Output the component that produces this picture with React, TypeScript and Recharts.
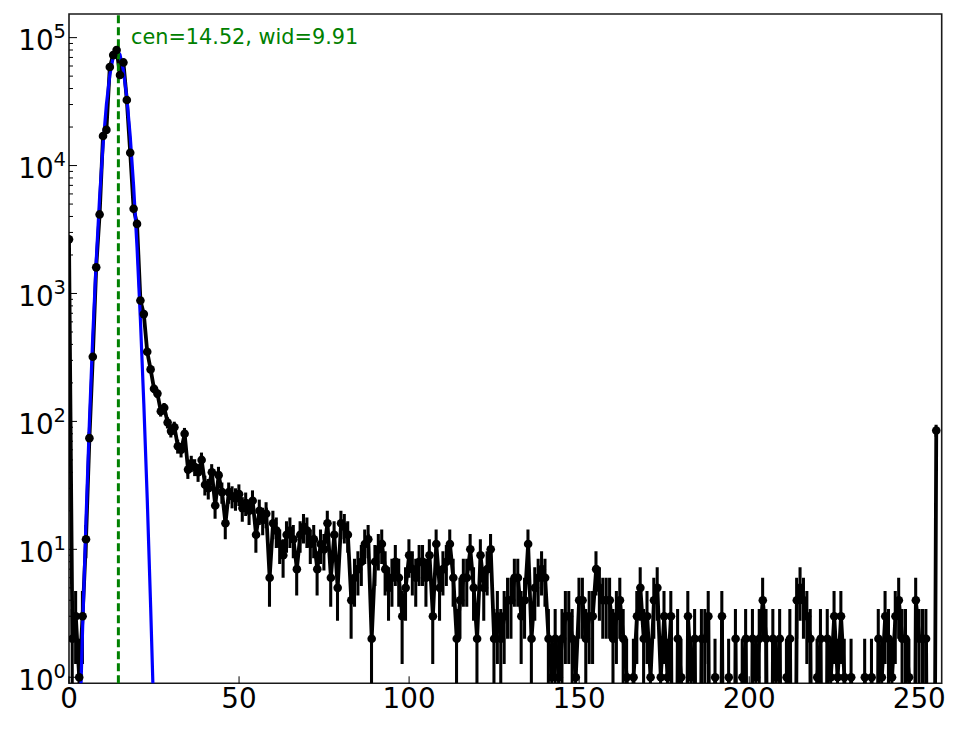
import { ComposedChart, Line, Bar, XAxis, YAxis, ReferenceLine, ReferenceArea } from 'recharts';

// counts per bin, bin index = x position
const counts = [
  2650, 2, 3, 1, 3, 12, 74, 320, 1600, 4150,
  17000, 19000, 59000, 73000, 80000, 51000, 64000, 32500, 12600, 4600,
  3500, 880, 690, 350, 255, 180, 165, 120, 128, 98,
  84, 90, 64, 60, 80, 42, 47, 44, 40, 50,
  32, 30, 40, 22, 38, 28, 16, 28, 26, 25,
  27, 21, 23, 20, 24, 13, 20, 17, 19, 6,
  16, 14, 11, 9, 13, 14, 12, 7, 13, 15,
  14, 11, 12, 7, 11, 10, 16, 6, 13, 5,
  16, 15, 13, 4, 6, 7, 8, 11, 12, 2,
  8, 10, 11, 7, 5, 6, 8, 6, 3, 5,
  9, 7, 6, 8, 8, 6, 9, 3, 11, 5,
  7, 8, 11, 6, 2, 4, 6, 6, 10, 5,
  2, 9, 5, 7, 10, 2, 3, 2, 3, 4,
  4, 6, 6, 3, 4, 11, 2, 5, 6, 7,
  6, 2, 1, 2, 1, 2, 3, 3, 2, 1,
  4, 4, 2, 3, 3, 7, 5, 4, 4, 4,
  2, 3, 4, 2, 1, 0, 1, 3, 5, 2,
  3, 1, 4, 5, 1, 3, 1, 3, 0, 2,
  1, 0, 3, 1, 2, 0, 2, 2, 3, 0,
  1, 0, 3, 0, 1, 0, 2, 0, 1, 2,
  0, 2, 1, 2, 4, 2, 0, 2, 1, 2,
  0, 1, 2, 0, 4, 5, 4, 3, 2, 0,
  1, 2, 0, 2, 1, 3, 1, 3, 1, 0,
  1, 0, 0, 0, 1, 0, 1, 0, 2, 1,
  3, 2, 1, 3, 4, 2, 2, 1, 0, 4,
  2, 2, 2, 0, 0, 85,
];

// gaussian fit curve
const fitX = [3, 4, 5, 6, 7, 8, 9, 10, 11, 12, 13, 14, 15, 16, 17, 18, 19, 20, 21, 22, 23, 24, 25];
const fitY = [0.28, 2.4, 17, 99, 468, 1790, 5640, 14400, 30000, 51000, 70700, 79900, 73600, 55400, 33900, 17000, 6900, 2300, 620, 137, 25, 3.6, 0.44];

const cen = 14.52;
const wid = 9.91;
const xTicks = [0, 50, 100, 150, 200, 250];
const yDecades = [1, 10, 100, 1000, 10000, 100000];

const X_MAX = 256.6;
const Y_MIN = 0.897;
const Y_MAX = 153000;
const FLOOR = 1e-4; // empty bins drop off the bottom like matplotlib's clip

const font = 'DejaVu Sans, sans-serif';

// sqrt(N) error bars as floating bars; lower ends stop at the bottom of the axes
const rows = counts.map((n, i) => ({
  x: i,
  y: n > 0 ? n : FLOOR,
  band: n > 0 ? [Math.max(n - Math.sqrt(n), Y_MIN), n + Math.sqrt(n)] : null,
}));
const fitRows = fitX.map((x, i) => ({ x, fit: fitY[i] }));
const yTicks = yDecades.flatMap((d) => (d === 100000 ? [d] : [1, 2, 3, 4, 5, 6, 7, 8, 9].map((m) => m * d)));

const XTick = (props: any) => {
  const { x, y, payload } = props;
  return (
    <g>
      <line x1={x} x2={x} y1={y} y2={y - 7} stroke="#000" strokeWidth={1} />
      <text x={x} y={y + 24.5} textAnchor="middle" fontSize={27.8} fontFamily={font} fill="#000">
        {payload.value}
      </text>
    </g>
  );
};

const YTick = (props: any) => {
  const { x, y, payload } = props;
  const v = payload.value;
  const major = yDecades.includes(v);
  return (
    <g>
      <line x1={x} x2={x + (major ? 8 : 4)} y1={y} y2={y} stroke="#000" strokeWidth={1} />
      {major && (
        <text x={x - 3} y={y + 12.3} textAnchor="end" fontSize={27.8} fontFamily={font} fill="#000">
          <tspan>10</tspan>
          <tspan dy={-12} fontSize={19.5}>{Math.round(Math.log10(v))}</tspan>
        </text>
      )}
    </g>
  );
};

const FitLabel = (props: any) => {
  const { viewBox } = props;
  return (
    <text x={viewBox.x + 12.6} y={viewBox.y + 30} fontSize={20.8} fontFamily={font} fill="#008000">
      {`cen=${cen.toFixed(2)}, wid=${wid.toFixed(2)}`}
    </text>
  );
};

export default function App() {
  return (
    <ComposedChart data={rows} width={948} height={713} margin={{ top: 6, right: 14.3, bottom: 0, left: 0 }}>
      <XAxis
        type="number"
        dataKey="x"
        domain={[0, X_MAX]}
        allowDataOverflow
        ticks={xTicks}
        interval={0}
        tick={<XTick />}
        tickLine={false}
        axisLine={false}
        tickSize={0}
        tickMargin={0}
        height={37.7}
      />
      <YAxis
        type="number"
        scale="log"
        domain={[Y_MIN, Y_MAX]}
        allowDataOverflow
        ticks={yTicks}
        interval={0}
        tick={<YTick />}
        tickLine={false}
        axisLine={false}
        tickSize={0}
        tickMargin={0}
        width={61}
      />
      <ReferenceArea x1={0} x2={X_MAX} y1={Y_MIN} y2={Y_MAX} fill="none" stroke="#1a1a1a" strokeWidth={1.6} />
      <Bar dataKey="band" fill="#000" barSize={3.8} isAnimationActive={false} />
      <Line
        dataKey="y"
        type="linear"
        stroke="#000"
        strokeWidth={3.8}
        dot={false}
        activeDot={false}
        isAnimationActive={false}
      />
      <Line
        data={fitRows}
        dataKey="fit"
        type="linear"
        stroke="#0000ff"
        strokeWidth={3.2}
        dot={false}
        activeDot={false}
        isAnimationActive={false}
      />
      <Line
        dataKey="y"
        type="linear"
        stroke="none"
        dot={{ r: 4.3, fill: '#000', stroke: 'none' }}
        activeDot={false}
        isAnimationActive={false}
      />
      <ReferenceLine x={cen} stroke="#008000" strokeWidth={3} strokeDasharray="8 4" label={<FitLabel />} />
    </ComposedChart>
  );
}
